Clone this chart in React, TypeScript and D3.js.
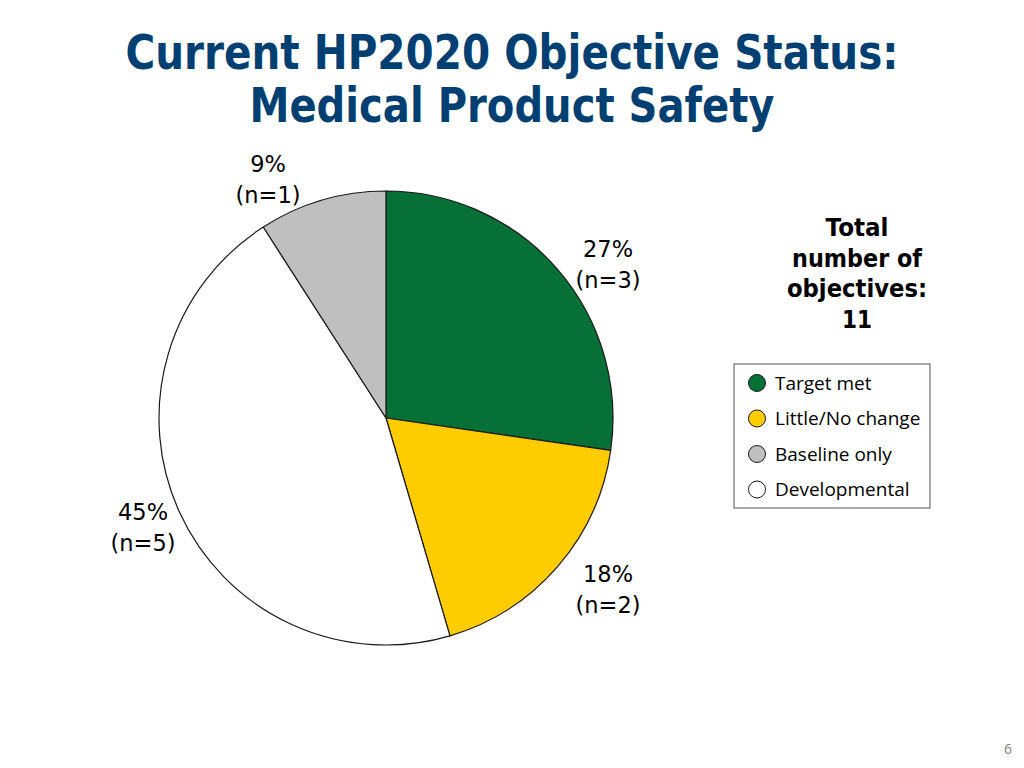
import { useEffect, useRef } from "react";
import * as d3 from "d3";

const categories = ["Target met", "Little/No change", "Developmental", "Baseline only"];
const counts = [3, 2, 5, 1];
const percentLabels = ["27%", "18%", "45%", "9%"];
const countLabels = ["(n=3)", "(n=2)", "(n=5)", "(n=1)"];
const sliceColors = ["#077036", "#FFCC00", "#FFFFFF", "#BFBFBF"];

const legendItems = ["Target met", "Little/No change", "Baseline only", "Developmental"];
const legendColors = ["#077036", "#FFCC00", "#BFBFBF", "#FFFFFF"];

const titleLines = ["Current HP2020 Objective Status:", "Medical Product Safety"];
const titleWidths = [773, 525];
const totalLines = ["Total", "number of", "objectives:", "11"];
const totalWidths = [63, 130, 140, 30];

// label anchor points relative to pie centre (dx, dy)
const labelOffsets: [number, number][] = [
    [222, -161],
    [222, 164],
    [-243, 102],
    [-118, -246],
];

export default function App() {
    const svgRef = useRef<SVGSVGElement | null>(null);

    useEffect(() => {
        const width = 1024;
        const height = 768;
        const cx = 386;
        const cy = 418;
        const r = 227;

        const svg = d3.select(svgRef.current!)
            .attr("width", width)
            .attr("height", height);
        svg.selectAll("*").remove();

        svg.append("rect").attr("width", width).attr("height", height).attr("fill", "#fff");

        // title (compressed horizontally to mimic a condensed bold face)
        svg.append("g")
            .selectAll("text")
            .data(titleLines)
            .join("text")
            .attr("x", 512)
            .attr("y", (_d, i) => 69 + i * 53)
            .attr("text-anchor", "middle")
            .attr("textLength", (_d, i) => titleWidths[i])
            .attr("lengthAdjust", "spacingAndGlyphs")
            .style("font-family", "'DejaVu Sans', sans-serif")
            .style("font-weight", "bold")
            .style("font-size", "48px")
            .attr("fill", "#003F72")
            .text((d) => d);

        const pie = d3.pie<number>().value((d) => d).sort(null);
        const arcs = pie(counts);
        const arcGen = d3.arc<d3.PieArcDatum<number>>().innerRadius(0).outerRadius(r);

        const g = svg.append("g").attr("transform", `translate(${cx},${cy})`);
        g.selectAll("path.slice")
            .data(arcs)
            .join("path")
            .attr("class", "slice")
            .attr("d", arcGen as any)
            .attr("fill", (_d, i) => sliceColors[i])
            .attr("stroke", "#1a1a1a")
            .attr("stroke-width", 1.2)
            .attr("stroke-linejoin", "round");

        const labels = g.selectAll("g.label")
            .data(arcs)
            .join("g")
            .attr("class", "label")
            .attr("transform", (_d, i) => `translate(${labelOffsets[i][0]},${labelOffsets[i][1]})`)
            .style("font-family", "'DejaVu Sans', Verdana, sans-serif")
            .style("font-size", "22.5px")
            .attr("fill", "#000")
            .attr("text-anchor", "middle");
        labels.append("text").attr("y", 0).text((_d, i) => percentLabels[i]);
        labels.append("text").attr("y", 31).text((_d, i) => countLabels[i]);

        // total box
        svg.append("g")
            .selectAll("text")
            .data(totalLines)
            .join("text")
            .attr("x", 857)
            .attr("y", (_d, i) => 236 + i * 30.5)
            .attr("text-anchor", "middle")
            .attr("textLength", (_d, i) => totalWidths[i])
            .attr("lengthAdjust", "spacingAndGlyphs")
            .style("font-family", "'DejaVu Sans', sans-serif")
            .style("font-weight", "bold")
            .style("font-size", "24px")
            .attr("fill", "#000")
            .text((d) => d);

        // legend
        const legend = svg.append("g").attr("transform", "translate(734,364)");
        legend.append("rect")
            .attr("width", 196)
            .attr("height", 144)
            .attr("fill", "#fff")
            .attr("stroke", "#555")
            .attr("stroke-width", 1);
        const items = legend.selectAll("g.item")
            .data(legendItems)
            .join("g")
            .attr("class", "item")
            .attr("transform", (_d, i) => `translate(0,${19 + i * 35.5})`);
        items.append("circle")
            .attr("cx", 23)
            .attr("cy", 0)
            .attr("r", 8.5)
            .attr("fill", (_d, i) => legendColors[i])
            .attr("stroke", "#1a1a1a")
            .attr("stroke-width", 1);
        items.append("text")
            .attr("x", 41)
            .attr("y", 6.5)
            .style("font-family", "'Open Sans', 'Noto Sans', sans-serif")
            .style("font-size", "19px")
            .attr("fill", "#000")
            .text((d) => d);

        svg.append("text")
            .attr("x", 1008)
            .attr("y", 754)
            .attr("text-anchor", "middle")
            .style("font-family", "'Open Sans', sans-serif")
            .style("font-size", "14px")
            .attr("fill", "#808080")
            .text("6");
    }, []);

    return (
        <div style={{ position: "fixed", left: 0, top: 0 }}>
            <svg ref={svgRef} style={{ display: "block" }} />
        </div>
    );
}
